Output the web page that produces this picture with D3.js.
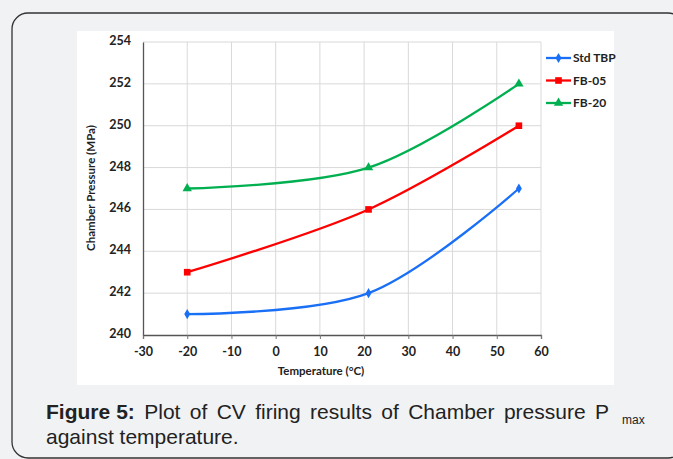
<!DOCTYPE html>
<html>
<head>
<meta charset="utf-8">
<script src="https://cdn.jsdelivr.net/npm/d3@7"></script>
<style>
html,body{margin:0;padding:0;background:#f1f2f4;}
svg{display:block;}
</style>
</head>
<body>
<svg id="chart" width="673" height="459"></svg>
<script>
const temperatures = [-20, 21, 55];
const stdTBP = [241, 242, 247];
const fb05 = [243, 246, 250];
const fb20 = [247, 248, 252];
const seriesNames = ["Std TBP", "FB-05", "FB-20"];
const seriesColors = ["#1a6ff7", "#ff0000", "#00b050"];
const seriesMarkers = ["diamond", "square", "triangle"];
const xTicks = [-30, -20, -10, 0, 10, 20, 30, 40, 50, 60];
const yTicks = [240, 242, 244, 246, 248, 250, 252, 254];
const xLabel = "Temperature (°C)";
const yLabel = "Chamber Pressure (MPa)";

const svg = d3.select("#chart");
const narrow = "Lato,'Liberation Sans',sans-serif";

// outer rounded frame
svg.append("rect").attr("x", 12).attr("y", 13).attr("width", 672).attr("height", 445)
  .attr("rx", 16).attr("fill", "#f1f2f4").attr("stroke", "#333").attr("stroke-width", 1.3);
// white chart area
svg.append("rect").attr("x", 77).attr("y", 31).attr("width", 537).attr("height", 354).attr("fill", "#fff");

const x = d3.scaleLinear().domain([-30, 60]).range([143, 541]);
const y = d3.scaleLinear().domain([240, 254]).range([335, 42]);

// gridlines
const g = svg.append("g");
g.selectAll(".vg").data(xTicks.slice(1)).join("line")
  .attr("x1", d => x(d)).attr("x2", d => x(d)).attr("y1", y(254)).attr("y2", y(240))
  .attr("stroke", "#d9d9d9").attr("stroke-width", 1);
g.selectAll(".hg").data(yTicks.slice(1)).join("line")
  .attr("x1", x(-30)).attr("x2", x(60)).attr("y1", d => y(d)).attr("y2", d => y(d))
  .attr("stroke", "#d9d9d9").attr("stroke-width", 1);

// axes
const fmt = d => String(d);
const xAxis = svg.append("g").attr("transform", `translate(0,${y(240)})`)
  .call(d3.axisBottom(x).tickValues(xTicks).tickFormat(fmt).tickSize(4).tickPadding(8));
const yAxis = svg.append("g").attr("transform", `translate(${x(-30)},0)`)
  .call(d3.axisLeft(y).tickValues(yTicks).tickFormat(fmt).tickSize(0).tickPadding(12));
[xAxis, yAxis].forEach(a => {
  a.select(".domain").attr("stroke", "#555").attr("stroke-width", 1.3);
  a.selectAll(".tick line").attr("stroke", "#777");
  a.selectAll("text").attr("font-family", narrow).attr("font-weight", "bold")
    .attr("font-size", 12.5).attr("fill", "#222");
});
yAxis.selectAll(".tick text").attr("dy", "0.2em");

// axis labels
svg.append("text").attr("x", 321).attr("y", 375).attr("text-anchor", "middle")
  .attr("font-family", narrow).attr("font-weight", "bold").attr("font-size", 11.5).attr("fill", "#222").text(xLabel);
svg.append("text").attr("transform", "translate(95,188) rotate(-90)").attr("text-anchor", "middle")
  .attr("font-family", narrow).attr("font-weight", "bold").attr("font-size", 11.5).attr("fill", "#222").text(yLabel);

// series
const allSeries = [stdTBP, fb05, fb20];
const line = d3.line().x((d, i) => x(temperatures[i])).y(d => y(d)).curve(d3.curveCatmullRom.alpha(0.5));
const symbolTypes = {diamond: d3.symbolDiamond, square: d3.symbolSquare, triangle: d3.symbolTriangle};
const symbolSizes = {diamond: 30, square: 44, triangle: 38};

allSeries.forEach((vals, si) => {
  const col = seriesColors[si];
  svg.append("path").datum(vals).attr("d", line).attr("fill", "none")
    .attr("stroke", col).attr("stroke-width", 2.3);
  const sym = d3.symbol().type(symbolTypes[seriesMarkers[si]]).size(symbolSizes[seriesMarkers[si]]);
  svg.selectAll(null).data(vals).join("path")
    .attr("transform", (d, i) => `translate(${x(temperatures[i])},${y(d)})`)
    .attr("d", sym).attr("fill", col);
});

// legend
const legendY = [58, 80.5, 103];
seriesNames.forEach((name, si) => {
  const col = seriesColors[si];
  const ly = legendY[si];
  svg.append("line").attr("x1", 546).attr("x2", 571).attr("y1", ly).attr("y2", ly)
    .attr("stroke", col).attr("stroke-width", 2.3);
  const sym = d3.symbol().type(symbolTypes[seriesMarkers[si]]).size(symbolSizes[seriesMarkers[si]]);
  svg.append("path").attr("transform", `translate(558.5,${ly})`).attr("d", sym).attr("fill", col);
  svg.append("text").attr("x", 573).attr("y", ly).attr("dy", "0.35em")
    .attr("font-family", narrow).attr("font-weight", "bold").attr("font-size", 12)
    .attr("fill", "#222").text(name);
});

// caption (justified first line)
const capFont = "'Liberation Sans',Arial,sans-serif";
const capSize = 21;
const words = [
  {t: "Figure", b: true}, {t: "5:", b: true}, {t: "Plot"}, {t: "of"}, {t: "CV"}, {t: "firing"},
  {t: "results"}, {t: "of"}, {t: "Chamber"}, {t: "pressure"}, {t: "P"}
];
const capG = svg.append("g");
const nodes = words.map(w => capG.append("text").attr("y", 419)
  .attr("font-family", capFont).attr("font-size", capSize).attr("fill", "#222")
  .attr("font-weight", w.b ? "bold" : "normal").text(w.t));
const widths = nodes.map(n => n.node().getComputedTextLength());
const startX = 46, endX = 609;
const restW = widths.slice(1).reduce((a, b) => a + b, 0);
const g2 = (endX - startX - widths[0] - 6 - restW) / (words.length - 2);
let px = startX;
nodes.forEach((n, i) => {
  n.attr("x", px);
  px += widths[i] + (i === 0 ? 6 : g2);
});
capG.append("text").attr("x", 622).attr("y", 424).attr("font-family", capFont)
  .attr("font-size", 12).attr("fill", "#222").text("max");
capG.append("text").attr("x", 46).attr("y", 444).attr("font-family", capFont)
  .attr("font-size", capSize).attr("fill", "#222").text("against temperature.");
</script>
</body>
</html>
